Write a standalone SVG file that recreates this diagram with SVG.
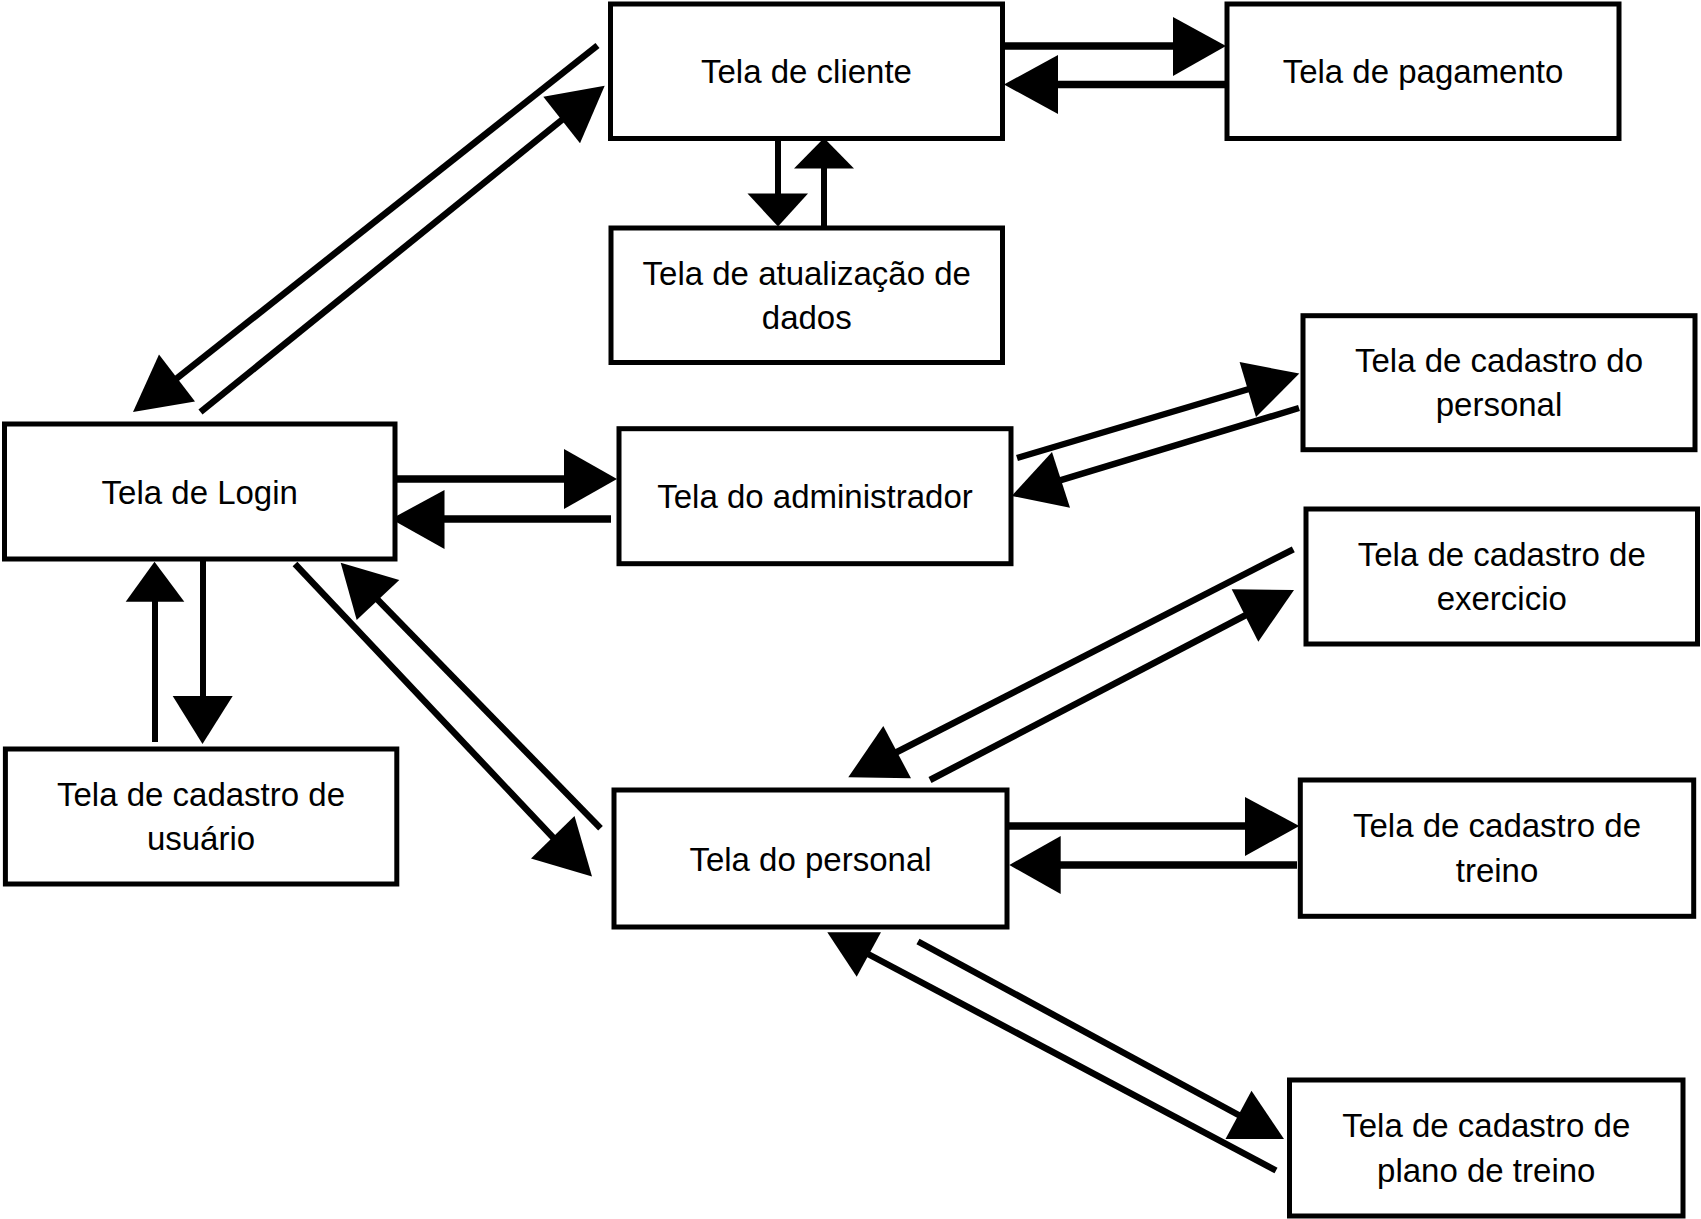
<svg xmlns="http://www.w3.org/2000/svg" width="1701" height="1219" viewBox="0 0 1701 1219">
<style>
.box{fill:#fff;stroke:#000;stroke-width:5}
.lbl{font-family:"Liberation Sans",Arial,sans-serif;font-size:33px;fill:#000;text-anchor:middle}
#connectors line{stroke:#000;stroke-width:6.5;fill:none}
#connectors line.h{stroke-width:7.5}
#connectors line.v{stroke-width:6}
#connectors polygon{fill:#000;stroke:none}
</style>
<rect x="0" y="0" width="1701" height="1219" fill="#fff"/>
<g id="connectors">
<line class="h" x1="1003" y1="46" x2="1174" y2="46"/><polygon points="1173,17 1226,46 1173,76"/>
<line class="h" x1="1226" y1="84.5" x2="1057" y2="84.5"/><polygon points="1058,55 1004,84.5 1058,114"/>
<line class="v" x1="778" y1="139" x2="778" y2="195"/><polygon points="747.5,193.5 778,226.5 808,193.5"/>
<line class="v" x1="824" y1="227" x2="824" y2="167"/><polygon points="794,168.5 824,138 854,168.5"/>
<line x1="597.5" y1="45.5" x2="176" y2="379"/><polygon points="159,354.4 133,412 195,401.5"/>
<line x1="200.5" y1="412" x2="563" y2="119"/><polygon points="543.3,96.7 604.7,85.7 580,143.3"/>
<line class="h" x1="396" y1="479" x2="565" y2="479"/><polygon points="564,449 617,479 564,509"/>
<line class="h" x1="611" y1="519" x2="443" y2="519"/><polygon points="444.5,490 391,519 444.5,549"/>
<line class="v" x1="155" y1="742" x2="155" y2="600"/><polygon points="125.7,601.7 154.5,561.7 184.3,601.7"/>
<line class="v" x1="203" y1="559" x2="203" y2="698"/><polygon points="172.7,696 202.5,744 232.7,696"/>
<line x1="295" y1="564" x2="554" y2="838.5"/><polygon points="531,858.6 592,876.4 574.5,816"/>
<line x1="600.5" y1="828.2" x2="377" y2="599"/><polygon points="399.3,580 340.7,562.7 356.7,620"/>
<line x1="1017" y1="458" x2="1249" y2="389"/><polygon points="1239.6,362 1299.3,373.6 1256,417"/>
<line x1="1299" y1="408" x2="1060" y2="480.3"/><polygon points="1052,452 1011.7,496 1070,507.7"/>
<line x1="1293.3" y1="549.3" x2="896" y2="752.5"/><polygon points="883.3,726 848.3,777.3 911,778.3"/>
<line x1="930" y1="780" x2="1246" y2="615"/><polygon points="1231.7,589.3 1294,590 1258.3,641.7"/>
<line class="h" x1="1007" y1="826" x2="1246" y2="826"/><polygon points="1245,797 1299.3,826 1245,856"/>
<line class="h" x1="1297" y1="865" x2="1059.7" y2="865"/><polygon points="1060.7,836 1009.3,865 1060.7,894"/>
<line x1="918" y1="941.5" x2="1239.5" y2="1115.5"/><polygon points="1225.5,1139 1284,1139 1251.5,1090.7"/>
<line x1="1276" y1="1170.5" x2="868" y2="954"/><polygon points="881,932.3 827.3,932.3 856.7,976.7"/>
</g>
<g id="n-cliente"><rect class="box" x="610.5" y="4" width="392" height="134.5"/><text class="lbl" x="806.5" y="83">Tela de cliente</text></g>
<g id="n-pagamento"><rect class="box" x="1227" y="4" width="392" height="134.5"/><text class="lbl" x="1423" y="83">Tela de pagamento</text></g>
<g id="n-atualizacao"><rect class="box" x="611" y="228" width="391.5" height="134.5"/><text class="lbl" x="806.75" y="284.5">Tela de atualização de</text><text class="lbl" x="806.75" y="328.5">dados</text></g>
<g id="n-login"><rect class="box" x="4.5" y="424" width="390.5" height="135"/><text class="lbl" x="199.75" y="503.5">Tela de Login</text></g>
<g id="n-admin"><rect class="box" x="619" y="428.7" width="392" height="135"/><text class="lbl" x="815" y="508">Tela do administrador</text></g>
<g id="n-cad-personal"><rect class="box" x="1303" y="315.7" width="392" height="134"/><text class="lbl" x="1499" y="371.5">Tela de cadastro do</text><text class="lbl" x="1499" y="416">personal</text></g>
<g id="n-cad-exercicio"><rect class="box" x="1306" y="509" width="391.5" height="135"/><text class="lbl" x="1501.75" y="565.5">Tela de cadastro de</text><text class="lbl" x="1501.75" y="610">exercicio</text></g>
<g id="n-cad-usuario"><rect class="box" x="5.4" y="749" width="391.4" height="135"/><text class="lbl" x="201" y="805.5">Tela de cadastro de</text><text class="lbl" x="201" y="850">usuário</text></g>
<g id="n-personal"><rect class="box" x="614" y="790" width="393" height="137"/><text class="lbl" x="810.5" y="870.5">Tela do personal</text></g>
<g id="n-cad-treino"><rect class="box" x="1300.3" y="780" width="393.4" height="136.3"/><text class="lbl" x="1497" y="837">Tela de cadastro de</text><text class="lbl" x="1497" y="881.5">treino</text></g>
<g id="n-cad-plano"><rect class="box" x="1289.5" y="1080" width="393.5" height="136"/><text class="lbl" x="1486.25" y="1137">Tela de cadastro de</text><text class="lbl" x="1486.25" y="1181.5">plano de treino</text></g>
</svg>
